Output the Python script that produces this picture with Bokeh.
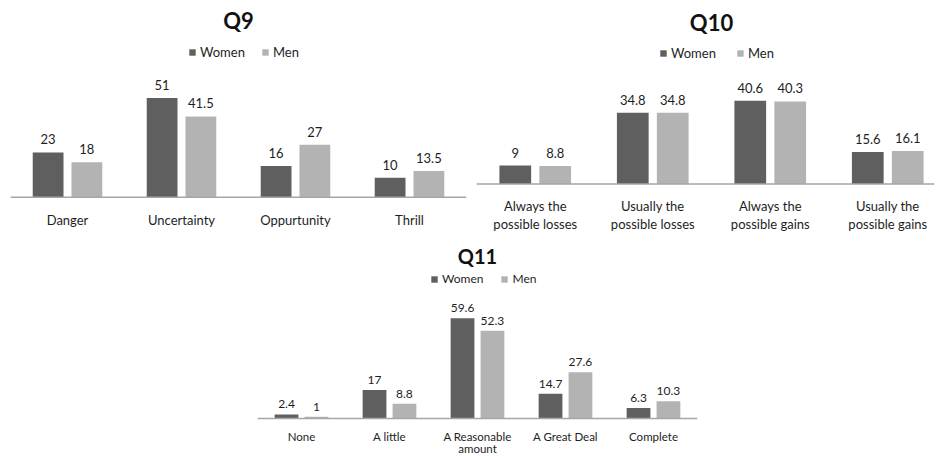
from bokeh.plotting import figure
from bokeh.models import Range1d, Span, Label, LabelSet, ColumnDataSource, Spacer
from bokeh.layouts import row, column
from bokeh.core.properties import value
from bokeh.embed import file_html
from bokeh.resources import INLINE

# ---------------- data ----------------
q9_categories = ["Danger", "Uncertainty", "Oppurtunity", "Thrill"]
q9_women = [23, 51, 16, 10]
q9_men = [18, 41.5, 27, 13.5]

q10_categories = ["Always the\npossible losses", "Usually the\npossible losses",
                  "Always the\npossible gains", "Usually the\npossible gains"]
q10_women = [9, 34.8, 40.6, 15.6]
q10_men = [8.8, 34.8, 40.3, 16.1]

q11_categories = ["None", "A little", "A Reasonable\namount", "A Great Deal", "Complete"]
q11_women = [2.4, 17, 59.6, 14.7, 6.3]
q11_men = [1, 8.8, 52.3, 27.6, 10.3]

series_names = ["Women", "Men"]

# ---------------- style ----------------
FONT = "Lato"
WOMEN_COLOR = "#5f5f5f"
MEN_COLOR = "#b3b3b3"
AXIS_COLOR = "#a6a6a6"
TEXT_COLOR = "#1e1e1e"


def make_chart(title, cats, women, men, fig_left, fig_top, width, height,
               frame_left, frame_right, pitch, baseline, scale,
               title_xy, title_size, legend_left, legend_cy, legend_font,
               font_px, label_top, line_height, value_font, value_offset,
               legend_spacing):
    L = frame_left - fig_left
    R = (fig_left + width) - frame_right
    fw = frame_right - frame_left
    b = baseline - fig_top
    p = figure(width=width, height=height, output_backend="svg", toolbar_location=None,
               tools="", x_range=Range1d(0, fw / pitch),
               y_range=Range1d(-(height - b) / scale, b / scale),
               min_border_left=L, min_border_right=R, min_border_top=0, min_border_bottom=0,
               x_axis_type=None, y_axis_type=None, outline_line_color=None,
               background_fill_color=None, border_fill_color=None)

    def dx(px):
        return (px - frame_left) / pitch

    def dy(py):
        return (baseline - py) / scale

    n = len(cats)
    centers = [i + 0.5 for i in range(n)]
    src = ColumnDataSource(dict(
        x=centers, cat=cats, women=women, men=men,
        xw=[c - 0.17 for c in centers], xm=[c + 0.17 for c in centers],
        wl=[f"{v:g}" for v in women], ml=[f"{v:g}" for v in men],
    ))
    p.vbar(x="xw", top="women", bottom=0, width=0.27, source=src,
           fill_color=WOMEN_COLOR, line_color=None, legend_label=series_names[0])
    p.vbar(x="xm", top="men", bottom=0, width=0.27, source=src,
           fill_color=MEN_COLOR, line_color=None, legend_label=series_names[1])
    p.add_layout(Span(location=0, dimension="width", line_color=AXIS_COLOR, line_width=1.5))

    for xcol, ycol, tcol in (("xw", "women", "wl"), ("xm", "men", "ml")):
        p.add_layout(LabelSet(x=xcol, y=ycol, text=tcol, source=src, y_offset=value_offset,
                              text_align="center", text_baseline="bottom",
                              text_font=value(FONT), text_font_size=value_font,
                              text_color=TEXT_COLOR))

    p.text(x="x", y=dy(label_top), text="cat", source=src, text_align="center",
           text_baseline="top", text_font=value(FONT), text_font_size=font_px,
           text_color=TEXT_COLOR, text_line_height=line_height)

    p.add_layout(Label(x=dx(title_xy[0]), y=dy(title_xy[1]), text=title,
                       text_align="center", text_baseline="middle", text_font=FONT,
                       text_font_size=title_size, text_font_style="bold",
                       text_color="#111111"))

    lg = p.legend[0]
    lg.orientation = "horizontal"
    lg.glyph_width = 8
    lg.glyph_height = 8
    lg.label_height = 14
    lg.label_standoff = 4
    lg.spacing = legend_spacing
    lg.padding = 0
    lg.margin = 0
    lg.border_line_color = None
    lg.background_fill_alpha = 0
    lg.label_text_font = FONT
    lg.label_text_font_size = legend_font
    lg.label_text_color = TEXT_COLOR
    item_h = 16
    lg.location = (legend_left - frame_left, (fig_top + height) - legend_cy - item_h / 2)
    return p


p9 = make_chart("Q9", q9_categories, q9_women, q9_men,
                fig_left=0, fig_top=0, width=470, height=238,
                frame_left=10, frame_right=466, pitch=114, baseline=196.7, scale=1.945,
                title_xy=(238, 20), title_size="22px", legend_left=188, legend_cy=52,
                legend_font="13px", font_px="13px", label_top=211.8, line_height=1.2,
                value_font="13px", value_offset=8, legend_spacing=16)

p10 = make_chart("Q10", q10_categories, q10_women, q10_men,
                 fig_left=470, fig_top=0, width=466, height=238,
                 frame_left=476, frame_right=934, pitch=117.5, baseline=183.5, scale=2.05,
                 title_xy=(711, 22), title_size="22px", legend_left=659, legend_cy=53,
                 legend_font="13px", font_px="13px", label_top=197.8, line_height=1.09,
                 value_font="13px", value_offset=8, legend_spacing=20)

p11 = make_chart("Q11", q11_categories, q11_women, q11_men,
                 fig_left=250, fig_top=238, width=452, height=218,
                 frame_left=257, frame_right=697, pitch=88, baseline=418, scale=1.68,
                 title_xy=(477, 255), title_size="20px", legend_left=430, legend_cy=278,
                 legend_font="12px", font_px="11.5px", label_top=429.5, line_height=0.9,
                 value_font="12px", value_offset=6, legend_spacing=17)

layout = column(row(p9, p10), row(Spacer(width=250, height=218), p11))

open("out.html", "w").write(file_html(layout, INLINE))
